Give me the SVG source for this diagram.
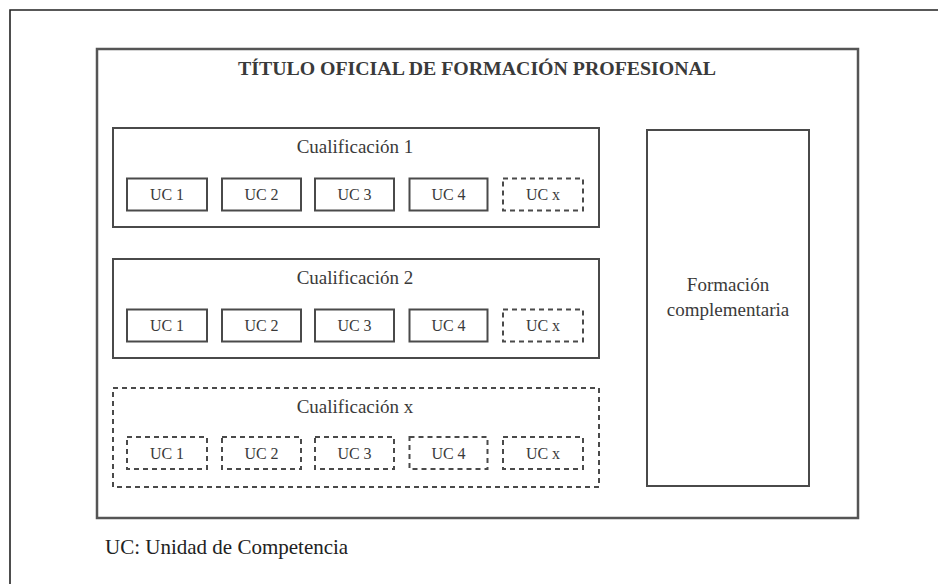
<svg xmlns="http://www.w3.org/2000/svg" width="938" height="584" viewBox="0 0 938 584">
<style>
.box{fill:none;stroke:#4a4a4a;stroke-width:2}
.dash{fill:none;stroke:#4a4a4a;stroke-width:2;stroke-dasharray:5 4}
.t{font-family:"Liberation Serif","Times New Roman",serif;fill:#3a3a3a;text-anchor:middle}
.uc{font-size:16px}
.q{font-size:19px}
</style>
<rect width="938" height="584" fill="#fff"/>
<path d="M10,584 V10 H938" fill="none" stroke="#222" stroke-width="1.6"/>
<g id="titulo">
<rect x="97" y="49" width="761" height="469" fill="none" stroke="#555" stroke-width="2.5"/>
<text class="t" x="477" y="75" font-size="18" font-weight="bold" fill="#222" textLength="478" lengthAdjust="spacingAndGlyphs">TÍTULO OFICIAL DE FORMACIÓN PROFESIONAL</text>
</g>
<g id="cualificacion1">
<rect class="box" x="113" y="128" width="486" height="99"/>
<text class="t q" x="355" y="153">Cualificación 1</text>
<rect class="box" x="127" y="178.5" width="80" height="32"/><text class="t uc" x="167" y="200">UC 1</text>
<rect class="box" x="222" y="178.5" width="79" height="32"/><text class="t uc" x="261.5" y="200">UC 2</text>
<rect class="box" x="315" y="178.5" width="79" height="32"/><text class="t uc" x="354.5" y="200">UC 3</text>
<rect class="box" x="409.5" y="178.5" width="78" height="32"/><text class="t uc" x="448.5" y="200">UC 4</text>
<rect class="dash" x="503" y="178.5" width="80" height="32"/><text class="t uc" x="543" y="200">UC x</text>
</g>
<g id="cualificacion2">
<rect class="box" x="113" y="259" width="486" height="99"/>
<text class="t q" x="355" y="284">Cualificación 2</text>
<rect class="box" x="127" y="309.5" width="80" height="32"/><text class="t uc" x="167" y="331">UC 1</text>
<rect class="box" x="222" y="309.5" width="79" height="32"/><text class="t uc" x="261.5" y="331">UC 2</text>
<rect class="box" x="315" y="309.5" width="79" height="32"/><text class="t uc" x="354.5" y="331">UC 3</text>
<rect class="box" x="409.5" y="309.5" width="78" height="32"/><text class="t uc" x="448.5" y="331">UC 4</text>
<rect class="dash" x="503" y="309.5" width="80" height="32"/><text class="t uc" x="543" y="331">UC x</text>
</g>
<g id="cualificacionx">
<rect class="dash" x="113" y="388" width="486" height="99"/>
<text class="t q" x="355" y="413">Cualificación x</text>
<rect class="dash" x="127" y="437" width="80" height="32"/><text class="t uc" x="167" y="459">UC 1</text>
<rect class="dash" x="222" y="437" width="79" height="32"/><text class="t uc" x="261.5" y="459">UC 2</text>
<rect class="dash" x="315" y="437" width="79" height="32"/><text class="t uc" x="354.5" y="459">UC 3</text>
<rect class="dash" x="409.5" y="437" width="78" height="32"/><text class="t uc" x="448.5" y="459">UC 4</text>
<rect class="dash" x="503" y="437" width="80" height="32"/><text class="t uc" x="543" y="459">UC x</text>
</g>
<g id="formacion">
<rect class="box" x="647" y="130" width="162" height="356"/>
<text class="t q" x="728" y="291">Formación</text>
<text class="t q" x="728" y="316">complementaria</text>
</g>
<g id="nota">
<text x="105" y="554" font-family="Liberation Serif, Times New Roman, serif" font-size="21" fill="#222">UC: Unidad de Competencia</text>
</g>
</svg>
